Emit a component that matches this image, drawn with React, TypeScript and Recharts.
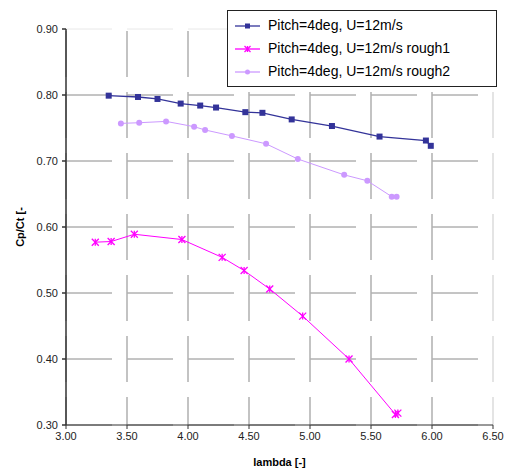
import { CartesianGrid, Legend, Line, LineChart, XAxis, YAxis } from "recharts";

const lambdaTicks = [3, 3.5, 4, 4.5, 5, 5.5, 6, 6.5];
const cpTicks = [0.3, 0.4, 0.5, 0.6, 0.7, 0.8, 0.9];

const smoothLambda = [3.35, 3.59, 3.75, 3.94, 4.1, 4.23, 4.47, 4.61, 4.85, 5.18, 5.57, 5.95, 5.99];
const smoothCp = [0.799, 0.797, 0.794, 0.787, 0.784, 0.781, 0.774, 0.773, 0.763, 0.753, 0.737, 0.731, 0.723];

const rough1Lambda = [3.24, 3.37, 3.56, 3.95, 4.28, 4.46, 4.67, 4.94, 5.32, 5.7, 5.72];
const rough1Cp = [0.577, 0.578, 0.589, 0.581, 0.554, 0.534, 0.506, 0.465, 0.4, 0.316, 0.318];

const rough2Lambda = [3.45, 3.6, 3.82, 4.05, 4.14, 4.36, 4.64, 4.9, 5.28, 5.47, 5.67, 5.71];
const rough2Cp = [0.757, 0.758, 0.76, 0.752, 0.747, 0.738, 0.726, 0.703, 0.679, 0.67, 0.646, 0.646];

const seriesNames = [
  "Pitch=4deg, U=12m/s",
  "Pitch=4deg, U=12m/s rough1",
  "Pitch=4deg, U=12m/s rough2",
];

const toPoints = (xs: number[], ys: number[]) => xs.map((x, i) => ({ x, y: ys[i] }));

const BLUE = "#333399";
const MAGENTA = "#ff00ff";
const LILAC = "#cc99ff";

function Marker({ kind, cx, cy, s }: { kind: string; cx: number; cy: number; s: number }) {
  if (kind === "square") {
    return <rect x={cx - s} y={cy - s} width={s * 2} height={s * 2} fill={BLUE} />;
  }
  if (kind === "star") {
    return (
      <g stroke={MAGENTA} strokeWidth={1.3}>
        <line x1={cx - s} y1={cy - s} x2={cx + s} y2={cy + s} />
        <line x1={cx - s} y1={cy + s} x2={cx + s} y2={cy - s} />
        <line x1={cx} y1={cy - s} x2={cx} y2={cy + s} />
      </g>
    );
  }
  return <circle cx={cx} cy={cy} r={s} fill={LILAC} />;
}

const markerKinds = ["square", "star", "circle"];
const markerColors = [BLUE, MAGENTA, LILAC];

function renderLegend() {
  return (
    <div
      style={{
        border: "1px solid #222",
        background: "#fff",
        padding: "3px 0 3px 6px",
        fontSize: 14,
        lineHeight: "23px",
        color: "#000",
      }}
    >
      {seriesNames.map((name, i) => (
        <div key={name} style={{ display: "flex", alignItems: "center" }}>
          <svg width={34} height={12}>
            <line x1={1} y1={6} x2={26} y2={6} stroke={markerColors[i]} strokeWidth={1.3} />
            <Marker kind={markerKinds[i]} cx={13.5} cy={6} s={i === 1 ? 3 : 2.5} />
          </svg>
          <span>{name}</span>
        </div>
      ))}
    </div>
  );
}

const hGrid = (p: any) => {
  const top = Math.abs(p.y1 - p.y) < 1;
  return (
    <line
      key={p.key}
      x1={p.x1}
      y1={p.y1}
      x2={p.x2}
      y2={p.y2}
      stroke={top ? "#e8e8e8" : "#8a8a8a"}
      strokeWidth={1}
      strokeDasharray="46 15"
    />
  );
};

const vGrid = (p: any) => {
  const right = Math.abs(p.x1 - (p.x + p.width)) < 1;
  return (
    <line
      key={p.key}
      x1={p.x1}
      y1={p.y1}
      x2={p.x2}
      y2={p.y2}
      stroke={right ? "#dcdcdc" : "#b0b0b0"}
      strokeWidth={1.5}
      strokeDasharray="46 15"
      strokeDashoffset={-2}
    />
  );
};

const yLabel = (props: any) => {
  const vb = props.viewBox;
  const x = vb.x + 20;
  const y = vb.y + vb.height / 2;
  return (
    <text
      x={x}
      y={y}
      transform={`rotate(-90, ${x}, ${y})`}
      textAnchor="middle"
      dominantBaseline="central"
      fontSize={11}
      fontWeight="bold"
      fill="#000"
    >
      Cp/Ct [-
    </text>
  );
};

export default function App() {
  const smooth = toPoints(smoothLambda, smoothCp);
  const rough1 = toPoints(rough1Lambda, rough1Cp);
  const rough2 = toPoints(rough2Lambda, rough2Cp);

  return (
    <div
      style={{
        position: "absolute",
        left: 0,
        top: 0,
        width: 508,
        height: 470,
        background: "#fff",
        fontFamily: '"Liberation Sans", Arial, sans-serif',
      }}
    >
      <LineChart width={508} height={470} margin={{ top: 29, right: 15, bottom: 0, left: 0 }}>
        <CartesianGrid horizontal={hGrid} vertical={vGrid} />
        <XAxis
          type="number"
          dataKey="x"
          domain={[3, 6.5]}
          ticks={lambdaTicks}
          tickFormatter={(v: number) => v.toFixed(2)}
          height={45}
          tickSize={4}
          tickMargin={3}
          stroke="#333"
          tick={{ fill: "#222", fontSize: 11 }}
          allowDataOverflow
          label={{
            value: "lambda [-]",
            position: "insideBottom",
            offset: 4,
            style: { fontWeight: "bold", fontSize: 11, fill: "#000" },
          }}
        />
        <YAxis
          type="number"
          dataKey="y"
          domain={[0.3, 0.9]}
          ticks={cpTicks}
          tickFormatter={(v: number) => v.toFixed(2)}
          width={66}
          tickSize={4}
          tickMargin={4}
          stroke="#333"
          strokeWidth={1.5}
          tick={{ fill: "#222", fontSize: 11 }}
          allowDataOverflow
          label={yLabel}
        />
        <Legend
          layout="vertical"
          align="center"
          verticalAlign="middle"
          content={renderLegend}
          wrapperStyle={{ left: 227, top: 10, width: 270, height: "auto" }}
        />
        <Line
          data={smooth}
          dataKey="y"
          name={seriesNames[0]}
          stroke={BLUE}
          strokeWidth={1.3}
          isAnimationActive={false}
          dot={(p: any) => <Marker key={`a${p.index}`} kind="square" cx={p.cx} cy={p.cy} s={3} />}
        />
        <Line
          data={rough1}
          dataKey="y"
          name={seriesNames[1]}
          stroke={MAGENTA}
          strokeWidth={1}
          isAnimationActive={false}
          dot={(p: any) => <Marker key={`b${p.index}`} kind="star" cx={p.cx} cy={p.cy} s={3.5} />}
        />
        <Line
          data={rough2}
          dataKey="y"
          name={seriesNames[2]}
          stroke={LILAC}
          strokeWidth={1}
          isAnimationActive={false}
          dot={(p: any) => <Marker key={`c${p.index}`} kind="circle" cx={p.cx} cy={p.cy} s={3} />}
        />
      </LineChart>
    </div>
  );
}
